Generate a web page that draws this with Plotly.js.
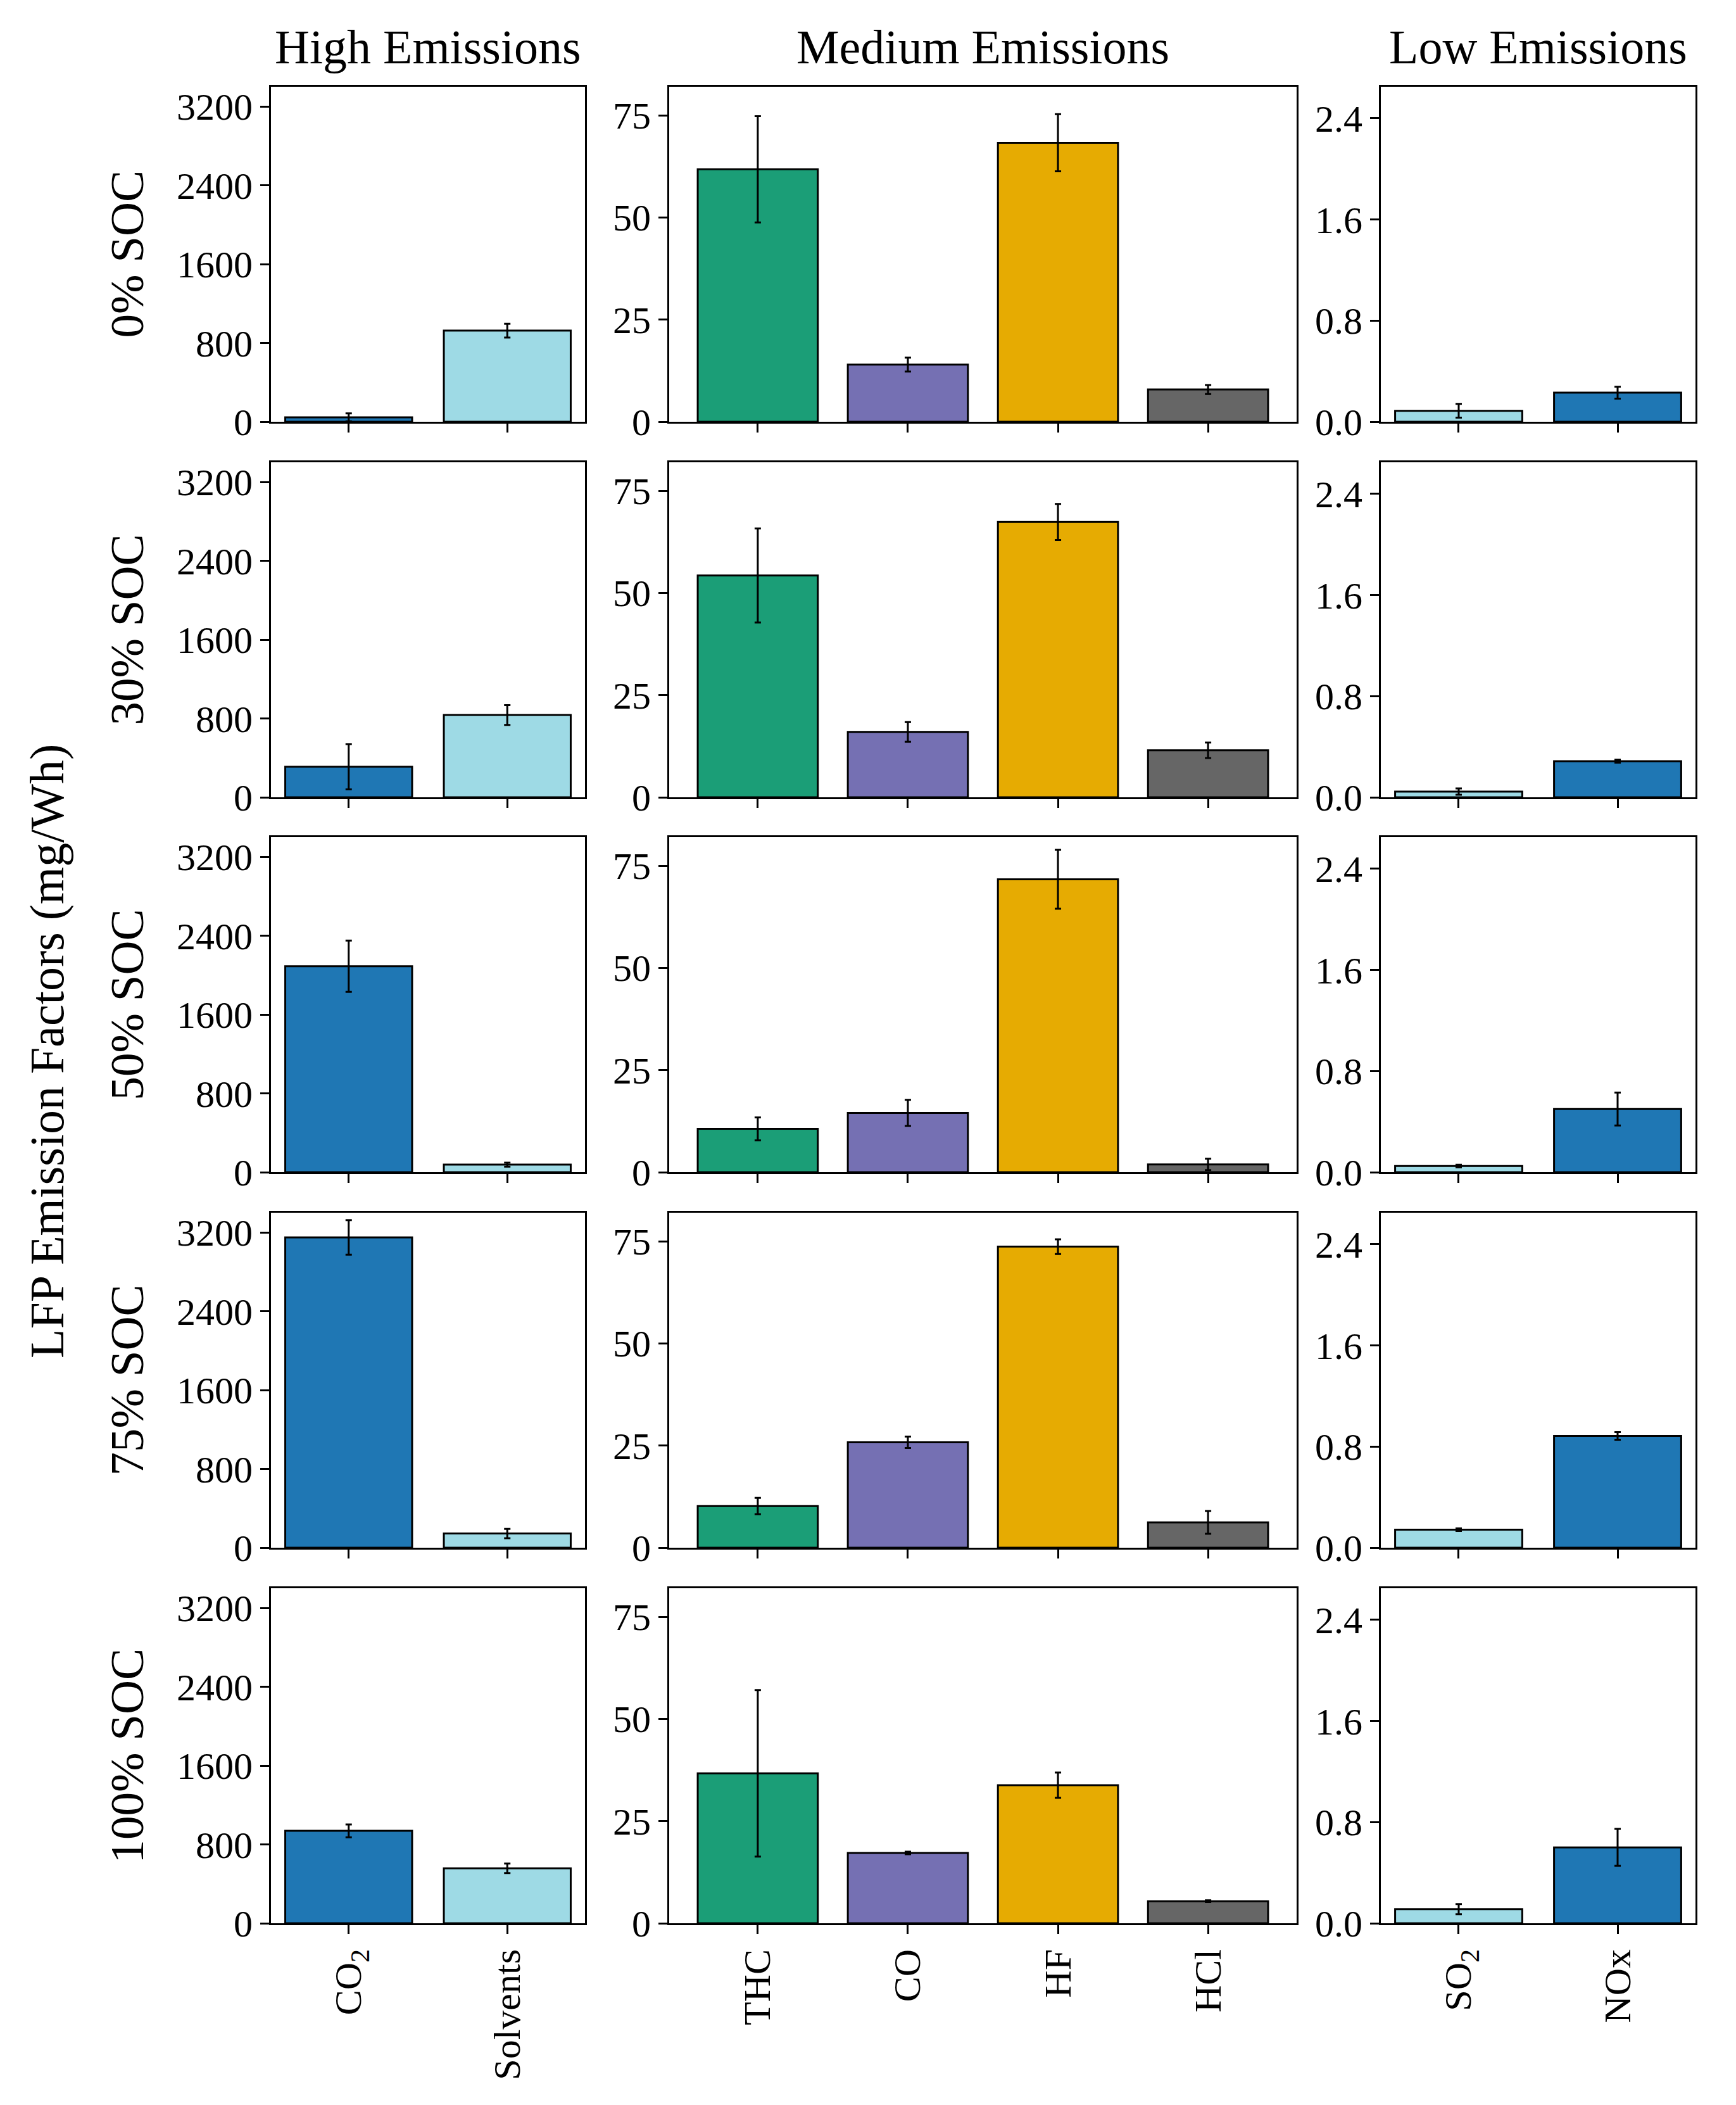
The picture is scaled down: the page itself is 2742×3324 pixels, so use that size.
<!DOCTYPE html>
<html>
<head>
<meta charset="utf-8">
<script src="https://cdn.plot.ly/plotly-3.0.1.min.js"></script>
<style>
  body { margin: 0; background: #fff; }
  #chart { width: 2742px; height: 3324px; }
</style>
</head>
<body>
<div id="chart"></div>
<script>
// values (mg/Wh)
const socLevels = ['0% SOC', '30% SOC', '50% SOC', '75% SOC', '100% SOC'];
const groupTitles = ['High Emissions', 'Medium Emissions', 'Low Emissions'];

const highCats = ['CO<sub>2</sub>', 'Solvents'];
const highVals = [[45, 925], [310, 835], [2090, 77], [3150, 144], [938, 558]];
const highErr  = [[40, 70], [230, 100], [260, 20], [175, 48], [65, 48]];

const medCats = ['THC', 'CO', 'HF', 'HCl'];
const medVals = [[61.8, 14.0, 68.3, 7.9], [54.3, 16.0, 67.4, 11.5], [10.6, 14.5, 71.7, 1.9],
                 [10.2, 25.8, 73.7, 6.2], [36.7, 17.2, 33.8, 5.4]];
const medErr  = [[13.0, 1.7, 7.0, 1.1], [11.5, 2.4, 4.4, 1.9], [2.8, 3.2, 7.2, 1.4],
                 [2.0, 1.4, 1.8, 2.8], [20.4, 0.3, 3.1, 0.2]];

const lowCats = ['SO<sub>2</sub>', 'NOx'];
const lowVals = [[0.087, 0.23], [0.045, 0.286], [0.049, 0.50], [0.143, 0.884], [0.112, 0.60]];
const lowErr  = [[0.055, 0.047], [0.025, 0.012], [0.01, 0.13], [0.01, 0.03], [0.04, 0.146]];

const highTicks = [0, 800, 1600, 2400, 3200];
const medTicks = [0, 25, 50, 75];
const lowTicks = [0, 0.8, 1.6, 2.4];

const groups = [
  {cats: highCats, vals: highVals, err: highErr, colors: ['#1f77b4', '#9edae5'],
   ticks: highTicks, yrange: [0, 3400], fmt: 'd', xrange: [-0.49, 1.49]},
  {cats: medCats, vals: medVals, err: medErr, colors: ['#1b9e77', '#7570b3', '#e6ab02', '#666666'],
   ticks: medTicks, yrange: [0, 82], fmt: 'd', xrange: [-0.59, 3.59]},
  {cats: lowCats, vals: lowVals, err: lowErr, colors: ['#9edae5', '#1f77b4'],
   ticks: lowTicks, yrange: [0, 2.65], fmt: '.1f', xrange: [-0.49, 1.49]}
];

// page geometry in pixels
const W = 2742, H = 3324;
const colPx = [[428, 924], [1057, 2048], [2181, 2678]];
const rowTopPx = [137, 730, 1322, 1915, 2508];
const panelH = 529;
const FONT = 'Liberation Serif, Times New Roman, serif';

let data = [];
let layout = {
  width: W, height: H,
  margin: {l: 0, r: 0, t: 0, b: 0},
  paper_bgcolor: '#fff', plot_bgcolor: '#fff',
  showlegend: false,
  bargap: 0.2,
  font: {family: FONT, color: '#000', size: 60},
  annotations: []
};

for (let r = 0; r < socLevels.length; r++) {
  for (let c = 0; c < groups.length; c++) {
    const g = groups[c];
    const idx = r * 3 + c + 1;
    const sfx = idx === 1 ? '' : String(idx);
    data.push({
      type: 'bar',
      x: g.cats,
      y: g.vals[r],
      xaxis: 'x' + sfx, yaxis: 'y' + sfx,
      marker: {color: g.colors, line: {color: '#000', width: 3}},
      error_y: {type: 'data', array: g.err[r], visible: true, color: '#000', thickness: 3, width: 5},
      hoverinfo: 'x+y'
    });
    const yb = 1 - (rowTopPx[r] + panelH) / H;
    const yt = 1 - rowTopPx[r] / H;
    layout['xaxis' + sfx] = {
      domain: [colPx[c][0] / W, colPx[c][1] / W],
      anchor: 'y' + sfx,
      type: 'category',
      range: g.xrange,
      showline: true, mirror: true, linecolor: '#000', linewidth: 3,
      ticks: 'outside', ticklen: 14, tickwidth: 3, tickcolor: '#000',
      showgrid: false, zeroline: false,
      showticklabels: r === socLevels.length - 1,
      tickangle: -90,
      tickfont: {family: FONT, size: 60, color: '#000'}
    };
    layout['yaxis' + sfx] = {
      domain: [yb, yt],
      anchor: 'x' + sfx,
      range: g.yrange,
      tickvals: g.ticks,
      tickformat: g.fmt,
      showline: true, mirror: true, linecolor: '#000', linewidth: 3,
      ticks: 'outside', ticklen: 14, tickwidth: 3, tickcolor: '#000',
      showgrid: false, zeroline: false,
      tickfont: {family: FONT, size: 60, color: '#000'}
    };
  }
  // row label
  layout.annotations.push({
    text: socLevels[r], xref: 'paper', yref: 'paper',
    x: 200 / W, y: 1 - (rowTopPx[r] + panelH / 2) / H,
    xanchor: 'center', yanchor: 'middle', textangle: -90, showarrow: false,
    font: {family: FONT, size: 75, color: '#000'}
  });
}

// column titles
for (let c = 0; c < groups.length; c++) {
  layout.annotations.push({
    text: groupTitles[c], xref: 'paper', yref: 'paper',
    x: (colPx[c][0] + colPx[c][1]) / 2 / W, y: 1 - 74 / H,
    xanchor: 'center', yanchor: 'middle', showarrow: false,
    font: {family: FONT, size: 76, color: '#000'}
  });
}

// overall y label
layout.annotations.push({
  text: 'LFP Emission Factors (mg/Wh)', xref: 'paper', yref: 'paper',
  x: 74 / W, y: 1 - 1660 / H,
  xanchor: 'center', yanchor: 'middle', textangle: -90, showarrow: false,
  font: {family: FONT, size: 76, color: '#000'}
});

Plotly.newPlot('chart', data, layout, {staticPlot: true});
</script>
</body>
</html>
